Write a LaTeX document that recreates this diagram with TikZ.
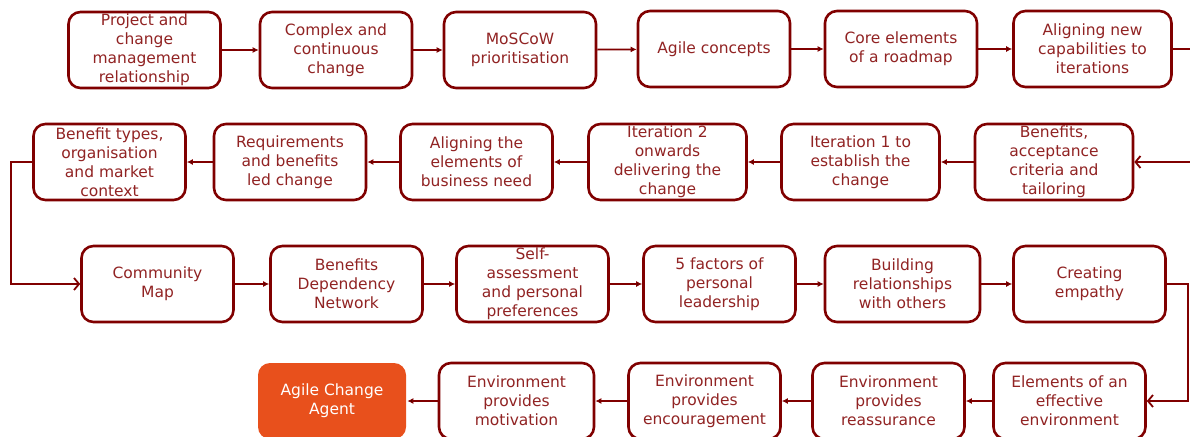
\documentclass[tikz,border=0pt]{standalone}
\usepackage{fontspec}
\setmainfont{DejaVu Sans}
\usetikzlibrary{arrows.meta}
\definecolor{darkmaroon}{RGB}{128,0,0}
\definecolor{textmaroon}{RGB}{145,35,35}
\definecolor{agentorange}{RGB}{232,80,28}

\begin{document}
\begin{tikzpicture}[x=1pt,y=1pt,
    topic node/.style={rectangle,rounded corners=12pt,draw=darkmaroon,line width=2.6pt,
        fill=white,text=textmaroon,align=center,minimum width=152pt,minimum height=76pt,
        inner xsep=2pt,inner ysep=0pt,font=\fontsize{15.5}{19}\selectfont},
    goal node/.style={topic node,draw=none,fill=agentorange,text=white},
    flow/.style={draw=darkmaroon,line width=1.8pt,-{Latex[length=6pt,width=6pt]}},
    wrap/.style={draw=darkmaroon,line width=1.8pt,-{Straight Barb[length=5pt,width=12pt]}}]

\clip (0,0) rectangle (1190,-436);

% first row, left to right
\node[topic node] (project) at (144.5,-50) {Project and\\change\\management\\relationship};
\node[topic node] (complex) at (336,-50) {Complex and\\continuous\\change};
\node[topic node] (moscow) at (520,-50) {MoSCoW\\prioritisation};
\node[topic node] (agile) at (714,-49) {Agile concepts};
\node[topic node] (roadmap) at (901,-49) {Core elements\\of a roadmap};
\node[topic node, minimum width=158pt] (capab) at (1092.5,-49) {Aligning new\\capabilities to\\iterations};

% second row, right to left
\node[topic node, minimum width=158pt] (accept) at (1054,-162) {Benefits,\\acceptance\\criteria and\\tailoring};
\node[topic node, minimum width=158pt] (iterone) at (860.5,-162) {Iteration 1 to\\establish the\\change};
\node[topic node, minimum width=158pt] (itertwo) at (667.5,-162) {Iteration 2\\onwards\\delivering the\\change};
\node[topic node] (need) at (476.5,-162) {Aligning the\\elements of\\business need};
\node[topic node] (reqs) at (290,-162) {Requirements\\and benefits\\led change};
\node[topic node] (types) at (109.5,-162) {Benefit types,\\organisation\\and market\\context};

% third row, left to right
\node[topic node] (community) at (157.5,-284) {Community\\Map};
\node[topic node] (bdn) at (346.5,-284) {Benefits\\Dependency\\Network};
\node[topic node] (self) at (532.5,-284) {Self-\\assessment\\and personal\\preferences};
\node[topic node] (factors) at (719.5,-284) {5 factors of\\personal\\leadership};
\node[topic node, minimum width=155pt] (relations) at (902.5,-284) {Building\\relationships\\with others};
\node[topic node] (empathy) at (1089.5,-284) {Creating\\empathy};

% fourth row, right to left
\node[topic node] (elements) at (1069.5,-401) {Elements of an\\effective\\environment};
\node[topic node] (reassure) at (888.5,-401) {Environment\\provides\\reassurance};
\node[topic node] (encourage) at (704.5,-401) {Environment\\provides\\encouragement};
\node[topic node, minimum width=155pt] (motivate) at (516.5,-401) {Environment\\provides\\motivation};
\node[goal node, minimum width=148pt] (agent) at (332,-401) {Agile Change\\Agent};

\path[flow]
(project) edge (complex)
(complex) edge (moscow)
(moscow) edge (agile)
(agile) edge (roadmap)
(roadmap) edge (capab)
(accept) edge (iterone)
(iterone) edge (itertwo)
(itertwo) edge (need)
(need) edge (reqs)
(reqs) edge (types)
(community) edge (bdn)
(bdn) edge (self)
(self) edge (factors)
(factors) edge (relations)
(relations) edge (empathy)
(elements) edge (reassure)
(reassure) edge (encourage)
(encourage) edge (motivate)
(motivate) edge (agent);

% turns between the rows
\draw[wrap] (capab.east) -- (1200,-49) -- (1200,-162) -- (accept.east);
\draw[wrap] (types.west) -- (11,-162) -- (11,-284) -- (community.west);
\draw[wrap] (empathy.east) -- (1188,-284) -- (1188,-401) -- (elements.east);

\end{tikzpicture}
\end{document}
